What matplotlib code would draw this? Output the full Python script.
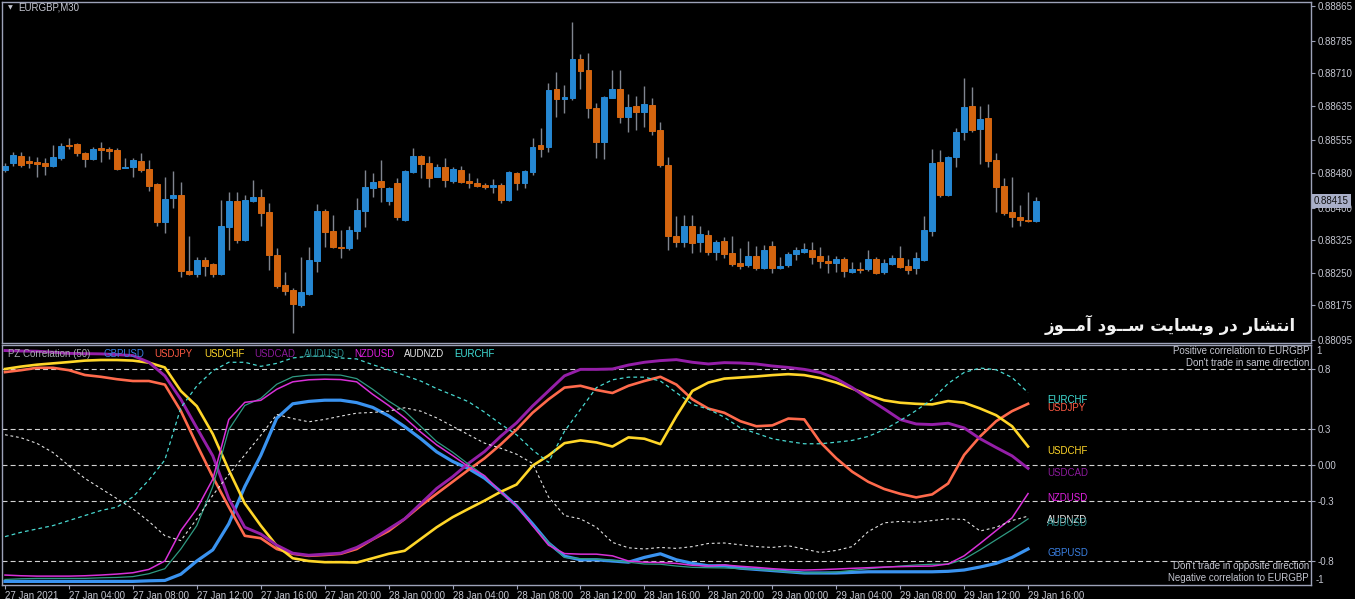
import numpy as np
import matplotlib
matplotlib.use('Agg')
import matplotlib.pyplot as plt
from matplotlib.transforms import blended_transform_factory as btf

# ---------------- data ----------------
SYMBOL_TITLE = 'EURGBP,M30'
# EURGBP M30 candles, prices in 1e-5 units (points)
OPEN_PTS = [88487, 88503, 88519, 88508, 88506, 88503, 88496, 88515, 88545, 88547,
            88526, 88512, 88538, 88536, 88533, 88492, 88494, 88508, 88489, 88455,
            88367, 88423, 88429, 88254, 88247, 88280, 88270, 88247, 88356, 88416,
            88326, 88416, 88425, 88390, 88291, 88222, 88210, 88176, 88201, 88277,
            88393, 88346, 88310, 88307, 88346, 88393, 88446, 88462, 88416, 88457,
            88372, 88483, 88519, 88503, 88471, 88494, 88462, 88487, 88462, 88457,
            88453, 88448, 88453, 88418, 88480, 88457, 88483, 88545, 88540, 88674,
            88651, 88653, 88743, 88718, 88630, 88552, 88653, 88674, 88609, 88635,
            88621, 88637, 88579, 88499, 88335, 88321, 88358, 88321, 88337, 88298,
            88323, 88296, 88273, 88268, 88289, 88261, 88312, 88261, 88268, 88293,
            88298, 88303, 88289, 88277, 88273, 88282, 88252, 88259, 88259, 88282,
            88252, 88270, 88284, 88266, 88261, 88280, 88346, 88506, 88429, 88517,
            88575, 88635, 88582, 88607, 88510, 88450, 88390, 88379, 88372, 88370]
HIGH_PTS = [88503, 88529, 88529, 88519, 88517, 88515, 88545, 88549, 88561, 88549,
            88529, 88540, 88552, 88540, 88538, 88515, 88515, 88526, 88510, 88457,
            88471, 88485, 88459, 88335, 88287, 88287, 88273, 88418, 88436, 88436,
            88429, 88464, 88443, 88411, 88307, 88252, 88215, 88287, 88310, 88409,
            88397, 88383, 88349, 88358, 88423, 88487, 88480, 88510, 88448, 88469,
            88487, 88538, 88522, 88519, 88501, 88515, 88494, 88496, 88480, 88469,
            88457, 88466, 88457, 88485, 88483, 88487, 88561, 88584, 88688, 88713,
            88683, 88828, 88754, 88757, 88642, 88658, 88718, 88718, 88662, 88658,
            88681, 88653, 88598, 88517, 88381, 88383, 88383, 88358, 88349, 88326,
            88333, 88335, 88307, 88323, 88312, 88314, 88323, 88287, 88298, 88310,
            88319, 88321, 88310, 88291, 88289, 88287, 88275, 88275, 88303, 88287,
            88282, 88291, 88312, 88282, 88298, 88381, 88536, 88533, 88519, 88584,
            88699, 88678, 88635, 88639, 88526, 88469, 88471, 88406, 88436, 88425]
LOW_PTS = [88483, 88496, 88494, 88492, 88471, 88476, 88494, 88510, 88536, 88519,
           88494, 88510, 88506, 88512, 88487, 88491, 88471, 88483, 88439, 88358,
           88342, 88400, 88240, 88245, 88240, 88243, 88240, 88245, 88303, 88319,
           88324, 88413, 88358, 88257, 88215, 88199, 88111, 88171, 88199, 88252,
           88310, 88307, 88284, 88303, 88328, 88356, 88425, 88413, 88406, 88372,
           88370, 88480, 88469, 88448, 88471, 88448, 88457, 88457, 88446, 88448,
           88443, 88434, 88411, 88416, 88441, 88446, 88476, 88517, 88529, 88609,
           88618, 88648, 88674, 88607, 88515, 88512, 88653, 88595, 88575, 88579,
           88586, 88568, 88494, 88303, 88310, 88310, 88296, 88298, 88291, 88280,
           88284, 88266, 88259, 88264, 88257, 88259, 88250, 88259, 88264, 88280,
           88296, 88270, 88261, 88250, 88252, 88240, 88250, 88250, 88254, 88247,
           88247, 88268, 88261, 88247, 88247, 88277, 88335, 88425, 88427, 88494,
           88556, 88575, 88501, 88494, 88390, 88383, 88356, 88358, 88367, 88367]
CLOSE_PTS = [88496, 88522, 88499, 88503, 88501, 88496, 88517, 88542, 88542, 88526,
             88512, 88536, 88533, 88531, 88489, 88494, 88510, 88487, 88450, 88367,
             88420, 88429, 88254, 88247, 88280, 88266, 88247, 88358, 88416, 88326,
             88418, 88425, 88388, 88291, 88220, 88208, 88178, 88206, 88280, 88393,
             88344, 88310, 88307, 88349, 88395, 88448, 88459, 88448, 88446, 88379,
             88485, 88519, 88501, 88469, 88494, 88464, 88489, 88459, 88457, 88450,
             88448, 88453, 88418, 88483, 88457, 88485, 88540, 88536, 88672, 88651,
             88655, 88743, 88715, 88630, 88552, 88655, 88674, 88609, 88632, 88621,
             88639, 88577, 88499, 88335, 88321, 88358, 88319, 88340, 88298, 88321,
             88293, 88270, 88266, 88289, 88261, 88303, 88261, 88266, 88293, 88303,
             88305, 88287, 88277, 88273, 88282, 88254, 88259, 88257, 88282, 88250,
             88273, 88284, 88264, 88257, 88284, 88349, 88503, 88429, 88517, 88575,
             88632, 88579, 88605, 88508, 88448, 88388, 88379, 88372, 88370, 88415]
LAST_PRICE = 0.88415
PRICE_TICKS = [0.88865, 0.88785, 0.88710, 0.88635, 0.88555, 0.88480,
               0.88400, 0.88325, 0.88250, 0.88175, 0.88095]

TIME_LABELS = ['27 Jan 2021', '27 Jan 04:00', '27 Jan 08:00', '27 Jan 12:00',
               '27 Jan 16:00', '27 Jan 20:00', '28 Jan 00:00', '28 Jan 04:00',
               '28 Jan 08:00', '28 Jan 12:00', '28 Jan 16:00', '28 Jan 20:00',
               '29 Jan 00:00', '29 Jan 04:00', '29 Jan 08:00', '29 Jan 12:00',
               '29 Jan 16:00']
BARS_PER_LABEL = 8

# PZ Correlation (50) values, read every 2nd bar (bar 0 .. bar 128)
CORR_STEP = 2
GBPUSD = [-0.97, -0.97, -0.97, -0.97, -0.97, -0.97, -0.97, -0.97, -0.97, -0.965, -0.962,
          -0.91, -0.80, -0.707, -0.49, -0.18, 0.08, 0.39, 0.51, 0.53, 0.54, 0.54, 0.52,
          0.48, 0.41, 0.32, 0.22, 0.11, 0.03, -0.03, -0.11, -0.22, -0.34, -0.49, -0.65,
          -0.76, -0.79, -0.79, -0.80, -0.81, -0.77, -0.74, -0.79, -0.82, -0.84,
          -0.84, -0.86, -0.87, -0.88, -0.89, -0.90, -0.90, -0.90, -0.895, -0.89, -0.89,
          -0.89, -0.89, -0.89, -0.886, -0.875, -0.85, -0.82, -0.77, -0.70]
USDJPY = [0.774, 0.79, 0.81, 0.81, 0.79, 0.75, 0.735, 0.715, 0.70, 0.70, 0.67, 0.45,
          0.17, -0.10, -0.35, -0.59, -0.61, -0.70, -0.74, -0.757, -0.75, -0.74, -0.70,
          -0.62, -0.55, -0.45, -0.34, -0.24, -0.14, -0.04, 0.056, 0.17, 0.295, 0.435,
          0.547, 0.645, 0.66, 0.625, 0.60, 0.66, 0.70, 0.735, 0.67, 0.547, 0.47,
          0.435, 0.365, 0.323, 0.33, 0.387, 0.38, 0.19, 0.056, -0.056, -0.14, -0.20,
          -0.24, -0.27, -0.245, -0.154, 0.084, 0.238, 0.365, 0.449, 0.51]
USDCHF = [0.80, 0.82, 0.836, 0.847, 0.858, 0.87, 0.875, 0.875, 0.87, 0.853, 0.813,
          0.617, 0.49, 0.258, -0.042, -0.32, -0.505, -0.673, -0.777, -0.80, -0.81,
          -0.81, -0.813,
          -0.777, -0.74, -0.715, -0.617, -0.519, -0.435, -0.365, -0.297, -0.224,
          -0.163, -0.006, 0.079, 0.182, 0.205, 0.188, 0.154, 0.23, 0.219, 0.174,
          0.407, 0.617, 0.687,
          0.72, 0.729, 0.738, 0.749, 0.757, 0.749, 0.724, 0.687, 0.637, 0.583, 0.539,
          0.519, 0.51, 0.505, 0.533, 0.519, 0.471, 0.415, 0.323, 0.154]
USDCAD = [0.954, 0.95, 0.948, 0.94, 0.93, 0.928, 0.926, 0.92, 0.912, 0.856, 0.743,
          0.547, 0.309, 0.076, -0.28, -0.519, -0.575, -0.668, -0.735, -0.752, -0.743,
          -0.735, -0.687,
          -0.617, -0.533, -0.449, -0.323, -0.196, -0.098, 0.014, 0.112, 0.238, 0.351,
          0.491, 0.617, 0.743, 0.797, 0.797, 0.80, 0.833, 0.856, 0.87, 0.878, 0.856,
          0.842,
          0.853, 0.85, 0.842, 0.825, 0.813, 0.797, 0.771, 0.72, 0.645, 0.553, 0.468,
          0.379, 0.342, 0.337, 0.348, 0.309, 0.219, 0.146, 0.076, -0.028]
AUDUSD = [-0.954, -0.948, -0.945, -0.945, -0.945, -0.945, -0.94, -0.937, -0.93, -0.906,
          -0.864, -0.70, -0.505, -0.18, 0.295, 0.496, 0.555, 0.673, 0.735, 0.749,
          0.752, 0.749, 0.72,
          0.631, 0.533, 0.449, 0.323, 0.196, 0.107, 0.006, -0.09, -0.23, -0.34,
          -0.505, -0.645, -0.771, -0.78, -0.785, -0.794, -0.81, -0.825, -0.827,
          -0.842, -0.853, -0.856,
          -0.858, -0.864, -0.87, -0.878, -0.892, -0.898, -0.898, -0.892, -0.878,
          -0.864, -0.853, -0.842, -0.833, -0.827, -0.827, -0.785, -0.707, -0.623,
          -0.539, -0.449]
NZDUSD = [-0.917, -0.923, -0.926, -0.926, -0.926, -0.923, -0.917, -0.909, -0.898,
          -0.87, -0.80, -0.547, -0.365, -0.118, 0.379, 0.522, 0.539, 0.631, 0.693,
          0.71, 0.715, 0.712, 0.693,
          0.589, 0.496, 0.393, 0.275, 0.168, 0.079, -0.014, -0.09, -0.224, -0.34,
          -0.505, -0.668, -0.738, -0.743, -0.743, -0.757, -0.80, -0.81, -0.813,
          -0.82, -0.836, -0.842,
          -0.833, -0.844, -0.853, -0.864, -0.872, -0.875, -0.872, -0.867, -0.861,
          -0.856, -0.85, -0.847, -0.844, -0.842, -0.825, -0.757, -0.654, -0.547,
          -0.44, -0.238]
AUDNZD = [0.252, 0.227, 0.18, 0.104, -0.006, -0.112, -0.196, -0.28, -0.365, -0.47,
          -0.589, -0.63, -0.449, -0.252, -0.079, 0.084, 0.247, 0.421, 0.387, 0.36,
          0.38, 0.407, 0.432,
          0.438, 0.449, 0.477, 0.449, 0.393, 0.323, 0.252, 0.182, 0.14, 0.09, 0.014,
          -0.266, -0.421, -0.449, -0.519, -0.645, -0.69, -0.70, -0.687, -0.695,
          -0.68, -0.654,
          -0.65, -0.665, -0.68, -0.687, -0.673, -0.70, -0.729, -0.712, -0.68, -0.555,
          -0.482, -0.47, -0.477, -0.463, -0.449, -0.454, -0.55, -0.519, -0.463, -0.426]
EURCHF = [-0.597, -0.561, -0.533, -0.505, -0.463, -0.421, -0.379, -0.351, -0.266,
          -0.126, 0.042, 0.477, 0.659, 0.785, 0.856, 0.856, 0.822, 0.847, 0.892,
          0.906, 0.909, 0.892, 0.884,
          0.836, 0.794, 0.746, 0.70, 0.637, 0.583, 0.527, 0.44, 0.342, 0.252, 0.126,
          0.022, 0.281, 0.463, 0.645, 0.71, 0.732, 0.732, 0.70, 0.603, 0.505, 0.466,
          0.398, 0.309, 0.264, 0.219, 0.196, 0.177, 0.177, 0.19, 0.205, 0.238, 0.295,
          0.37, 0.454, 0.547, 0.679, 0.771, 0.808, 0.794, 0.729, 0.603]

SERIES_NAMES = ['GBPUSD', 'USDJPY', 'USDCHF', 'USDCAD', 'AUDUSD', 'NZDUSD', 'AUDNZD', 'EURCHF']
SERIES_VALUES = [GBPUSD, USDJPY, USDCHF, USDCAD, AUDUSD, NZDUSD, AUDNZD, EURCHF]
# end-of-line label values (as placed on the chart)
LABEL_VALUES = [-0.735, 0.475, 0.12, -0.065, -0.485, -0.275, -0.46, 0.54]
LEVELS = [0.8, 0.3, 0.0, -0.3, -0.8]
LEVEL_LABELS = ['0.8', '0.3', '0.00', '-0.3', '-0.8']
INDICATOR_TITLE = 'PZ Correlation (50)'
NOTE_TOP = ['Positive correlation to EURGBP', "Don't trade in same direction"]
NOTE_BOTTOM = ["Don't trade in opposite direction", 'Negative correlation to EURGBP']
WATERMARK = 'انتشار در وبسایت ســود آمــوز'

# ---------------- styles ----------------
BG = '#000000'
BORDER = '#9da2b8'
AXTXT = '#c4c6d0'
BULL = '#2587d2'
BEAR = '#d4650f'
WICK = '#80858f'
SERIES_COLORS = ['#3a93f0', '#ff6a4c', '#ffd629', '#951fa8', '#2f9a82', '#d830d8',
                 '#e0e0e0', '#48d8d0']
SERIES_LW = [2.3, 1.9, 1.9, 2.1, 0.9, 1.1, 0.8, 0.9]
SERIES_DASH = [None, None, None, None, None, None, (2.5, 2.5), (3, 2.5)]
LEGEND_COLORS = ['#3a7fe0', '#ff5a44', '#ffd629', '#8b1a9b', '#2a8a8a', '#e020e0',
                 '#e6e6e6', '#40e0d8']
FONT = ['Liberation Sans', 'DejaVu Sans']


# simple Arabic/Persian presentation-form shaper (matplotlib has no shaping)
AR_FORMS = {
    '\u0627': (0xFE8D, 0xFE8E, None, None), '\u0622': (0xFE81, 0xFE82, None, None),
    '\u0646': (0xFEE5, 0xFEE6, 0xFEE7, 0xFEE8), '\u062A': (0xFE95, 0xFE96, 0xFE97, 0xFE98),
    '\u0634': (0xFEB5, 0xFEB6, 0xFEB7, 0xFEB8), '\u0631': (0xFEAD, 0xFEAE, None, None),
    '\u062F': (0xFEA9, 0xFEAA, None, None), '\u0648': (0xFEED, 0xFEEE, None, None),
    '\u0628': (0xFE8F, 0xFE90, 0xFE91, 0xFE92), '\u0633': (0xFEB1, 0xFEB2, 0xFEB3, 0xFEB4),
    '\u06CC': (0xFBFC, 0xFBFD, 0xFBFE, 0xFBFF), '\u064A': (0xFEF1, 0xFEF2, 0xFEF3, 0xFEF4),
    '\u0645': (0xFEE1, 0xFEE2, 0xFEE3, 0xFEE4), '\u0632': (0xFEAF, 0xFEB0, None, None),
}


def shape_rtl(text):
    def dual(ch):
        return ch == '\u0640' or (ch in AR_FORMS and AR_FORMS[ch][2] is not None)

    def joining(ch):
        return ch == '\u0640' or ch in AR_FORMS

    out = []
    for i, ch in enumerate(text):
        if ch not in AR_FORMS:
            out.append(ch)
            continue
        prev = text[i - 1] if i > 0 else ' '
        nxt = text[i + 1] if i + 1 < len(text) else ' '
        jp = dual(prev)
        jn = dual(ch) and joining(nxt)
        iso, fin, ini, med = AR_FORMS[ch]
        cp = med if (jp and jn) else fin if jp else ini if jn else iso
        out.append(chr(cp))
    return ''.join(reversed(out))


# ---------------- figure ----------------
W, H = 1355, 599
fig = plt.figure(figsize=(W / 100, H / 100), dpi=100, facecolor=BG)


def box(x0, y0, x1, y1):
    return [x0 / W, 1 - y1 / H, (x1 - x0) / W, (y1 - y0) / H]


ax1 = fig.add_axes(box(2, 2, 1311, 343))
ax2 = fig.add_axes(box(2, 345, 1311, 585))
for ax in (ax1, ax2):
    ax.set_facecolor(BG)
    for s in ax.spines.values():
        s.set_color(BORDER)
        s.set_linewidth(1.0)
    ax.set_xlim(-0.375, 163.4)

# candles
o = np.array(OPEN_PTS) / 1e5
h = np.array(HIGH_PTS) / 1e5
l = np.array(LOW_PTS) / 1e5
c = np.array(CLOSE_PTS) / 1e5
idx = np.arange(len(o))
cols = np.where(c >= o, BULL, BEAR)
ax1.vlines(idx, l, h, color=WICK, lw=1.0, zorder=1)
ax1.bar(idx, np.abs(c - o), bottom=np.minimum(o, c), width=0.74, color=cols,
        edgecolor=cols, linewidth=0.7, zorder=2)
ax1.set_ylim(0.88088, 0.88874)
ax1.set_xticks([])
ax1.yaxis.tick_right()
ax1.set_yticks(PRICE_TICKS)
ax1.set_yticklabels([f'{t:.5f}' for t in PRICE_TICKS], family=FONT)
ax1.tick_params(axis='y', colors=AXTXT, labelsize=7, length=3, width=0.8, pad=2)
ax1.tick_params(axis='y', color=BORDER)
ax1.text(1 + 3 / 1309, LAST_PRICE, f'{LAST_PRICE:.5f}', transform=btf(ax1.transAxes, ax1.transData),
         ha='left', va='center', fontsize=7, color='#111111', family=FONT, clip_on=False,
         bbox=dict(boxstyle='square,pad=0.18', fc='#a9afc8', ec='none'), zorder=10)

fig.text(8 / W, 1 - 8 / H, '\u25BC', fontsize=4.5, color=AXTXT, ha='left', va='center',
         family=['DejaVu Sans'])
fig.text(18 / W, 1 - 8 / H, SYMBOL_TITLE, fontsize=7, color=AXTXT, ha='left', va='center',
         family=FONT)
fig.text(1296 / W, 1 - 325 / H, shape_rtl(WATERMARK), fontsize=12, weight='bold',
         color='#f2f2f2', ha='right', va='center', family=['DejaVu Sans'])

# correlation panel
ax2.set_ylim(-1, 1)
for lv in LEVELS:
    ax2.axhline(lv, color='#d2d2d2', lw=0.8, dashes=(4.5, 2.8), zorder=1)
cx = np.arange(len(GBPUSD)) * CORR_STEP
draw_order = [6, 7, 4, 5, 3, 1, 2, 0]
for k in draw_order:
    kw = dict(color=SERIES_COLORS[k], lw=SERIES_LW[k], zorder=3 + k * 0.1,
              solid_joinstyle='round')
    if SERIES_DASH[k] is not None:
        kw['dashes'] = SERIES_DASH[k]
    ax2.plot(cx, SERIES_VALUES[k], **kw)
    ax2.text(130.4, LABEL_VALUES[k], SERIES_NAMES[k], color=LEGEND_COLORS[k], fontsize=7,
             ha='left', va='center', family=FONT, zorder=6)

ax2.yaxis.tick_right()
ax2.set_yticks(LEVELS)
ax2.set_yticklabels(LEVEL_LABELS, family=FONT)
ax2.tick_params(axis='y', colors=AXTXT, labelsize=7, length=3, width=0.8, pad=2)
ax2.tick_params(axis='y', color=BORDER)
tr_r = btf(ax2.transAxes, ax2.transData)
ax2.text(1 + 5 / 1309, 0.95, '1', transform=tr_r, fontsize=7, color=AXTXT, ha='left',
         va='center', family=FONT, clip_on=False)
ax2.text(1 + 5 / 1309, -0.955, '-1', transform=tr_r, fontsize=7, color=AXTXT, ha='left',
         va='center', family=FONT, clip_on=False)
ax2.text(0.9985, 0.95, NOTE_TOP[0], transform=tr_r, fontsize=7, color=AXTXT, ha='right', va='center', family=FONT)
ax2.text(0.9985, 0.85, NOTE_TOP[1], transform=tr_r, fontsize=7, color=AXTXT, ha='right', va='center', family=FONT)
ax2.text(0.9985, -0.845, NOTE_BOTTOM[0], transform=tr_r, fontsize=7, color=AXTXT, ha='right', va='center', family=FONT)
ax2.text(0.9985, -0.945, NOTE_BOTTOM[1], transform=tr_r, fontsize=7, color=AXTXT, ha='right', va='center', family=FONT)

ax2.set_xticks(np.arange(len(TIME_LABELS)) * BARS_PER_LABEL)
ax2.set_xticklabels(TIME_LABELS, family=FONT)
ax2.tick_params(axis='x', colors=AXTXT, labelsize=7, length=3, width=0.8, pad=1)
ax2.tick_params(axis='x', color=BORDER)
for lbl in ax2.get_xticklabels():
    lbl.set_ha('left')

# indicator legend
fig.text(8 / W, 1 - 354 / H, INDICATOR_TITLE, fontsize=7, color='#a8a8b0', ha='left',
         va='center', family=FONT)
for k, name in enumerate(SERIES_NAMES):
    fig.text((104 + 50 * k) / W, 1 - 354 / H, name, fontsize=7, color=LEGEND_COLORS[k],
             ha='left', va='center', family=FONT)

fig.savefig('out.png', dpi=100, facecolor=BG)
